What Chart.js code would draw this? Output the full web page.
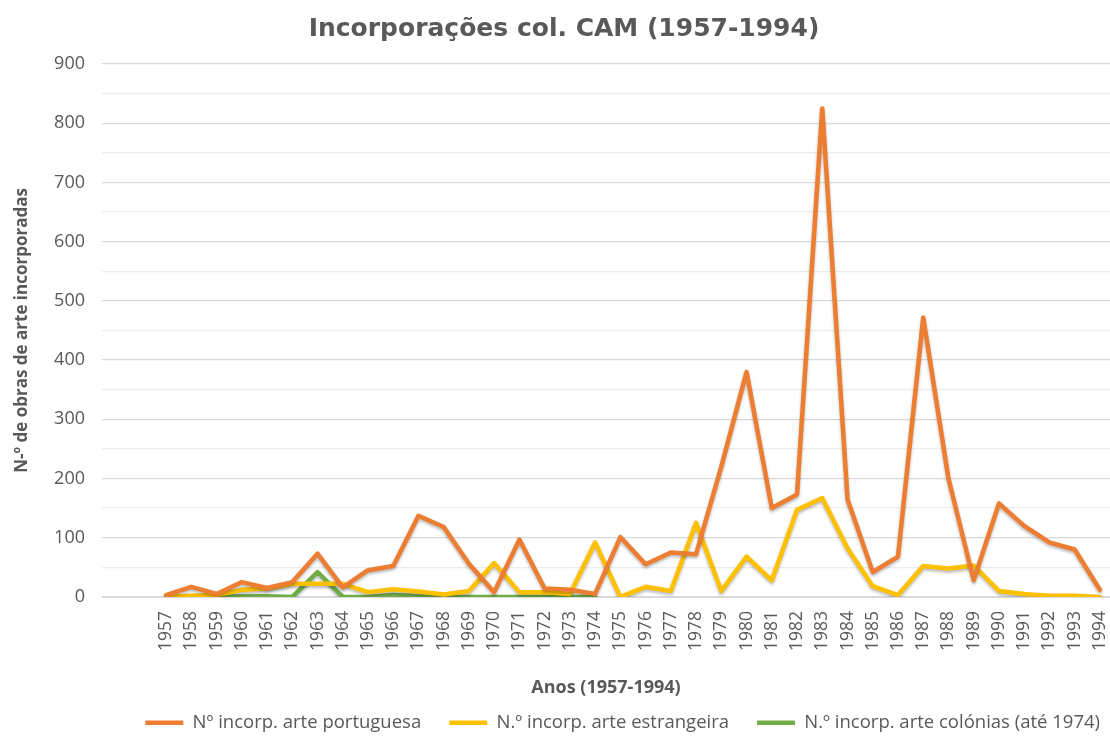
<!DOCTYPE html>
<html>
<head>
<meta charset="utf-8">
<script src="https://cdn.jsdelivr.net/npm/chart.js@4.4.1/dist/chart.umd.min.js"></script>
<style>
  body { margin: 0; background: #fff; }
</style>
</head>
<body>
<canvas id="chart" width="1110" height="736"></canvas>
<script>
const years = [1957,1958,1959,1960,1961,1962,1963,1964,1965,1966,1967,1968,1969,1970,1971,1972,1973,1974,1975,
  1976,1977,1978,1979,1980,1981,1982,1983,1984,1985,1986,1987,1988,1989,1990,1991,1992,1993,1994];
const portuguesa = [3,17,5,25,15,25,73,16,45,52,137,118,56,8,97,14,12,5,101,
  55,75,72,220,380,150,173,825,165,42,68,472,200,28,158,120,92,80,12];
const estrangeira = [0,2,3,12,14,22,22,22,8,13,9,4,10,57,8,8,5,92,0,
  17,10,125,10,68,28,147,167,82,18,3,52,48,53,10,5,2,2,0];
const colonias = [0,0,0,1,1,0,42,0,0,3,1,0,0,0,0,0,0,0];
const yTicks = [0,100,200,300,400,500,600,700,800,900];

const grey = '#595959';

function pts(vals){
    return vals.map((v, i) => ({x: years[i], y: v}));
}

const shadow = {
    id: 'shadow',
    beforeDatasetDraw(chart){
        const c = chart.ctx;
        c.save();
        c.shadowColor = 'rgba(0,0,0,0.28)';
        c.shadowBlur = 3;
        c.shadowOffsetY = 2;
    },
    afterDatasetDraw(chart){
        chart.ctx.restore();
    }
};

const ctx = document.getElementById('chart').getContext('2d');
new Chart(ctx, {
    type: 'line',
    data: {
        datasets: [
        {label: 'Nº incorp. arte portuguesa', data: pts(portuguesa), borderColor: '#ED7D31', backgroundColor: '#ED7D31', borderWidth: 4.5},
        {label: 'N.º incorp. arte estrangeira', data: pts(estrangeira), borderColor: '#FFC000', backgroundColor: '#FFC000', borderWidth: 4.5},
        {label: 'N.º incorp. arte colónias (até 1974)', data: pts(colonias), borderColor: '#70AD47', backgroundColor: '#70AD47', borderWidth: 4.5}
        ]
    },
    options: {
    responsive: false,
    animation: false,
    elements: {
        line: {tension: 0, borderJoinStyle: 'round', borderCapStyle: 'round'},
        point: {radius: 0, hoverRadius: 0}
    },
    // negative right padding pushes the legend over like the original
    layout: {padding: {left: 0, right: -18, top: 4, bottom: -6}},
    scales: {
        x: {
            type: 'linear',
            min: 1954.46,
            max: 1994.4,
            afterBuildTicks: s => { s.ticks = years.map(v => ({value: v})); },
            afterFit: s => { s.paddingLeft = 0; s.paddingRight = 0; },
            grid: {display: false},
            border: {display: false},
            ticks: {
                color: grey,
                font: {family: 'Open Sans', size: 17.5},
                minRotation: 90,
                maxRotation: 90,
                autoSkip: false,
                padding: 6,
                callback: v => String(v)
            },
            title: {
                display: true,
                text: 'Anos (1957-1994)',
                color: grey,
                font: {family: 'Open Sans', size: 18, weight: 'bold'},
                padding: {top: 20, bottom: -13}
            }
        },
        y: {
            min: 0,
            max: 900,
            afterFit: s => { s.width = 102; },
            afterBuildTicks: s => {
                const t = [];
                for (let v = 0; v <= 900; v += 50) t.push({value: v});
                s.ticks = t;
            },
            grid: {
                color: c => (c.tick && c.tick.value % 100 === 0) ? '#d9d9d9' : '#ececec',
                lineWidth: c => (c.tick && c.tick.value === 0) ? 2 : 1.3,
                drawTicks: false
            },
            border: {display: false},
            ticks: {
                color: grey,
                font: {family: 'Open Sans', size: 18},
                padding: 17,
                autoSkip: false,
                callback: v => yTicks.includes(v) ? String(v) : ''
            },
            title: {
                display: true,
                text: 'N-º de obras de arte incorporadas',
                color: grey,
                font: {family: 'Open Sans', size: 17, weight: 'bold'},
                padding: {top: 12, bottom: 0}
            }
        }
    },
    plugins: {
        title: {
            display: true,
            text: 'Incorporações col. CAM (1957-1994)',
            color: grey,
            font: {family: 'DejaVu Sans', size: 25, weight: 'bold'},
            padding: {top: 10, bottom: 20}
        },
        legend: {
            position: 'bottom',
            align: 'end',
            labels: {
                color: grey,
                font: {family: 'Open Sans', size: 18.5},
                usePointStyle: true,
                pointStyle: 'line',
                pointStyleWidth: 38,
                padding: 28
            }
        },
        tooltip: {enabled: false}
    }
},
plugins: [shadow]
});
</script>
</body>
</html>
